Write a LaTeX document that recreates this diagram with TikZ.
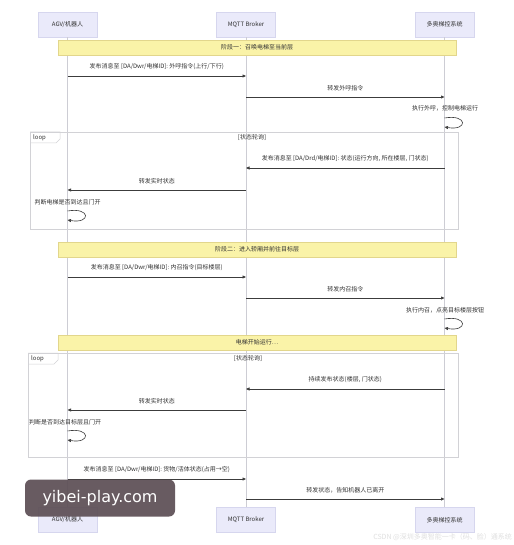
\documentclass[tikz,border=0pt]{standalone}
\usepackage{fontspec}
\setmainfont{Noto Sans CJK SC}
\newfontfamily\wmfont{DejaVu Sans}
\usetikzlibrary{arrows.meta}
\definecolor{actfill}{RGB}{234,234,250}
\definecolor{actdraw}{RGB}{214,214,238}
\definecolor{notefill}{RGB}{250,243,168}
\definecolor{notedraw}{RGB}{226,214,140}
\definecolor{lifecol}{RGB}{205,205,212}
\definecolor{framecol}{RGB}{210,210,214}
\definecolor{arrcol}{RGB}{60,60,60}
\definecolor{txtcol}{RGB}{50,50,50}
\definecolor{wmfill}{RGB}{92,78,84}
\tikzset{
  actor/.style={fill=actfill,draw=actdraw,line width=0.4pt,minimum width=59pt,minimum height=25pt,inner sep=0pt,text=txtcol},
  notebox/.style={fill=notefill,draw=notedraw,line width=0.4pt,minimum width=398pt,minimum height=15pt,inner sep=0pt,text=txtcol},
  lifeline/.style={draw=lifecol,line width=0.6pt},
  msg/.style={draw=arrcol,line width=0.6pt,-{Triangle[length=3.5pt,width=3pt]}},
  msgtext/.style={midway,above=6pt,inner sep=0pt,text=txtcol},
  frame/.style={draw=framecol,line width=0.5pt},
  plain/.style={inner sep=0pt,text=txtcol}
}
\begin{document}
\begin{tikzpicture}[x=1pt,y=-1pt,font=\fontsize{6}{7}\selectfont]
\useasboundingbox[fill=white] (0,0) rectangle (513,545);
% actors top
\node[actor] (a1) at (67.5,24.5) {AGV/机器人};
\node[actor] (b1) at (246,24.5) {MQTT Broker};
\node[actor] (c1) at (444.5,24.5) {多奥梯控系统};
% actors bottom
\node[actor] (a2) at (67.5,520) {AGV/机器人};
\node[actor] (b2) at (246,520) {MQTT Broker};
\node[actor] (c2) at (444.5,520) {多奥梯控系统};
% lifelines
\draw[lifeline] (a1) -- (a2);
\draw[lifeline] (b1) -- (b2);
\draw[lifeline] (c1) -- (c2);
% loop frames
\draw[frame] (30,132) rectangle (458,229);
\draw[frame] (30,132) -- (60,132) -- (60,139) -- (56,143) -- (30,143);
\node[plain,anchor=west] (lp1) at (33,137.5) {loop};
\node[plain] (lc1) at (252,137.5) {[状态轮询]};
\draw[frame] (28,353) rectangle (458,457);
\draw[frame] (28,353) -- (58,353) -- (58,360) -- (54,364) -- (28,364);
\node[plain,anchor=west] (lp2) at (31,358.5) {loop};
\node[plain] (lc2) at (248,358.5) {[状态轮询]};
% notes
\node[notebox] (n1) at (257,47.5) {阶段一：召唤电梯至当前层};
\node[notebox] (n2) at (257,249.5) {阶段二：进入轿厢并前往目标层};
\node[notebox] (n3) at (257,342.5) {电梯开始运行…};
% messages
\draw[msg] (a1 |- 0,76) -- node[msgtext]{发布消息至 [DA/Dwr/电梯ID]: 外呼指令(上行/下行)} (b1 |- 0,76);
\draw[msg] (b1 |- 0,97) -- node[msgtext]{转发外呼指令} (c1 |- 0,97);
\node[plain] (t1) at (445,108) {执行外呼，控制电梯运行};
\draw[msg] (c1 |- 0,118) .. controls (468,114) and (468,131) .. (c1 |- 0,127);
\draw[msg] (c1 |- 0,168) -- node[msgtext]{发布消息至 [DA/Drd/电梯ID]: 状态(运行方向, 所在楼层, 门状态)} (b1 |- 0,168);
\draw[msg] (b1 |- 0,190) -- node[msgtext]{转发实时状态} (a1 |- 0,190);
\node[plain] (t2) at (67.5,202) {判断电梯是否到达且门开};
\draw[msg] (a1 |- 0,211) .. controls (91,207) and (91,224) .. (a1 |- 0,220);
\draw[msg] (a1 |- 0,277) -- node[msgtext]{发布消息至 [DA/Dwr/电梯ID]: 内召指令(目标楼层)} (b1 |- 0,277);
\draw[msg] (b1 |- 0,298) -- node[msgtext]{转发内召指令} (c1 |- 0,298);
\node[plain] (t3) at (445,310) {执行内召，点亮目标楼层按钮};
\draw[msg] (c1 |- 0,319) .. controls (468,315) and (468,332) .. (c1 |- 0,328);
\draw[msg] (c1 |- 0,389) -- node[msgtext]{持续发布状态(楼层, 门状态)} (b1 |- 0,389);
\draw[msg] (b1 |- 0,410) -- node[msgtext]{转发实时状态} (a1 |- 0,410);
\node[plain] (t4) at (65,422) {判断是否到达目标层且门开};
\draw[msg] (a1 |- 0,431) .. controls (91,427) and (91,444) .. (a1 |- 0,440);
\draw[msg] (a1 |- 0,479) -- node[msgtext]{发布消息至 [DA/Dwr/电梯ID]: 货物/活体状态(占用→空)} (b1 |- 0,479);
\draw[msg] (b1 |- 0,499) -- node[msgtext]{转发状态，告知机器人已离开} (c1 |- 0,499);
% watermarks
\node[fill=wmfill,fill opacity=0.92,text opacity=1,rounded corners=6pt,minimum width=150pt,minimum height=37pt,inner sep=0pt,text=white,font=\wmfont\fontsize{16}{18}\selectfont] (wm) at (100,498) {yibei-play.com};
\node[plain,text=black!12,font=\fontsize{7}{8}\selectfont,anchor=east] (wm2) at (512,537) {CSDN @深圳多奥智能一卡（码、脸）通系统};
\end{tikzpicture}
\end{document}
